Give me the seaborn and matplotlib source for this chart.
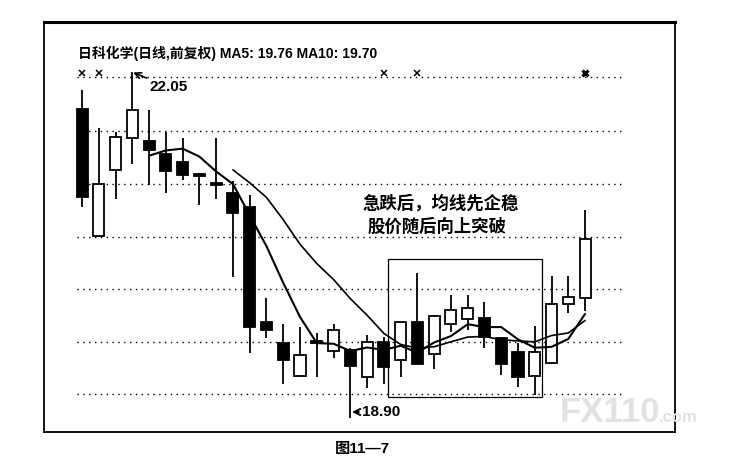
import numpy as np
import pandas as pd
import matplotlib
matplotlib.use('Agg')
import matplotlib.pyplot as plt
import seaborn as sns
from matplotlib.patches import Rectangle

# 日K线数据
opens = [21.71, 20.56, 21.16, 21.45, 21.42, 21.30, 21.23, 21.11, 21.03, 20.95, 20.82,
         19.77, 19.58, 19.28, 19.59, 19.51, 19.52, 19.27, 19.59, 19.43, 19.77, 19.48,
         19.76, 19.80, 19.81, 19.63, 19.50, 19.28, 19.40, 19.94, 19.99]
highs = [21.89, 21.54, 21.50, 22.05, 21.70, 21.50, 21.45, 21.13, 21.45, 21.06, 20.93,
         19.99, 19.76, 19.73, 19.67, 19.76, 19.54, 19.66, 19.64, 19.77, 20.22, 19.84,
         20.02, 20.02, 19.96, 19.64, 19.58, 19.74, 20.19, 20.19, 20.79]
lows = [20.82, 20.55, 20.89, 21.21, 21.02, 20.95, 21.07, 20.84, 20.89, 20.18, 19.49,
        19.63, 19.21, 19.28, 19.27, 19.45, 18.90, 19.17, 19.21, 19.27, 19.39, 19.35,
        19.68, 19.70, 19.54, 19.29, 19.18, 19.11, 19.39, 19.86, 19.87]
closes = [20.91, 21.03, 21.46, 21.70, 21.34, 21.15, 21.11, 21.10, 21.02, 20.77, 19.73,
          19.70, 19.43, 19.47, 19.58, 19.70, 19.37, 19.59, 19.36, 19.77, 19.39, 19.83,
          19.88, 19.90, 19.64, 19.39, 19.27, 19.50, 19.94, 20.00, 20.53]

# 虚线网格的价位
grid_levels = [22.00, 21.51, 21.03, 20.55, 20.07, 19.59, 19.12]
# 顶部 x 标记所在的K线
mark_days = [0, 1, 18, 20]
mark_big_day = 30
mark_level = 22.04

# 方框范围（K线序号 / 价格）
box_days = (18.23, 27.41)
box_prices = (19.09, 20.35)

title_txt = '日科化学(日线,前复权) MA5: 19.76 MA10: 19.70'
note_line1 = '急跌后，均线先企稳'
note_line2 = '股价随后向上突破'

df = pd.DataFrame({'open': opens, 'high': highs, 'low': lows, 'close': closes})
df['day'] = np.arange(len(df))
df['ma5'] = df['close'].rolling(5).mean()
df['ma10'] = df['close'].rolling(10).mean()

sns.set_theme(style='white')
plt.rcParams['font.family'] = ['Liberation Sans', 'Noto Sans CJK SC', 'DejaVu Sans']
plt.rcParams['text.color'] = 'black'

fig = plt.figure(figsize=(7.44, 4.63), dpi=100)
ax = fig.add_axes([0.0591, 0.0670, 0.8481, 0.8855])
ax.set_xlim(-2.27, 35.36)
ax.set_ylim(18.773, 22.505)
ax.set_xticks([])
ax.set_yticks([])
for s in ax.spines.values():
    s.set_color('black')
    s.set_linewidth(1.3)
ax.spines['top'].set_linewidth(2.2)

# 网格
ax.hlines(grid_levels, -0.3, 32.26, colors='black', linestyles=(0, (1, 3.2)), lw=1.0, zorder=1)

# 影线
ax.vlines(df['day'], df['low'], df['high'], colors='black', lw=1.3, zorder=2)

# 实体
up = df['close'] >= df['open']
body_h = (df['close'] - df['open']).abs().clip(lower=0.022)
body_b = df[['open', 'close']].min(axis=1)
ax.bar(df['day'][up], body_h[up], bottom=body_b[up], width=0.66,
       color='white', edgecolor='black', linewidth=1.3, zorder=3)
ax.bar(df['day'][~up], body_h[~up], bottom=body_b[~up], width=0.66,
       color='black', edgecolor='black', linewidth=1.3, zorder=3)

# 均线
ma5 = df.dropna(subset=['ma5'])
ma10 = df.dropna(subset=['ma10'])
sns.lineplot(x=ma5['day'], y=ma5['ma5'], ax=ax, color='black', lw=1.5, zorder=4)
sns.lineplot(x=ma10['day'], y=ma10['ma10'], ax=ax, color='black', lw=1.2, zorder=4)

# 顶部标记
ax.plot(mark_days, [mark_level] * len(mark_days), 'x', color='black', ms=4, mew=1.1, zorder=5)
ax.plot([mark_big_day], [mark_level], 'x', color='black', ms=5, mew=2.2, zorder=5)

# 方框
ax.add_patch(Rectangle((box_days[0], box_prices[0]), box_days[1] - box_days[0],
                       box_prices[1] - box_prices[0], fill=False, ec='black', lw=0.9, zorder=2))

# 文字
ax.text(0.054, 0.924, title_txt, transform=ax.transAxes, fontsize=10, fontweight='bold',
        ha='left', va='center', color='black')

i_hi = int(np.argmax(highs))
ax.annotate(f'{highs[i_hi]:.2f}', xy=(i_hi + 0.05, highs[i_hi] - 0.005), xytext=(i_hi + 1.05, 21.91),
            fontsize=11, fontweight='bold', ha='left', va='center', color='black',
            arrowprops=dict(arrowstyle='->', color='black', lw=1.2, shrinkA=0, shrinkB=0))
i_lo = int(np.argmin(lows))
ax.annotate(f'{lows[i_lo]:.2f}', xy=(i_lo + 0.1, 18.955), xytext=(i_lo + 0.7, 18.955),
            fontsize=11, fontweight='bold', ha='left', va='center', color='black',
            arrowprops=dict(arrowstyle='->', color='black', lw=1.4, shrinkA=0, shrinkB=0))

ax.text(16.7, 20.857, note_line1, fontsize=12.5, fontweight='bold', ha='left', va='center',
        color='black')
ax.text(17.0, 20.648, note_line2, fontsize=12.5, fontweight='bold', ha='left', va='center',
        color='black')

# 图号与水印
fig.text(0.4866, 0.030, '图11—7', fontsize=11, fontweight='bold', ha='center', va='center',
         color='black')
fig.text(0.7527, 0.0886, 'FX110', fontsize=25, fontweight='bold', color='#e2e2e2',
         ha='left', va='baseline', zorder=0)
fig.text(0.8858, 0.0886, '.com', fontsize=12, fontweight='bold', color='#e2e2e2',
         ha='left', va='baseline', zorder=0)

fig.savefig('out.png', dpi=100)
